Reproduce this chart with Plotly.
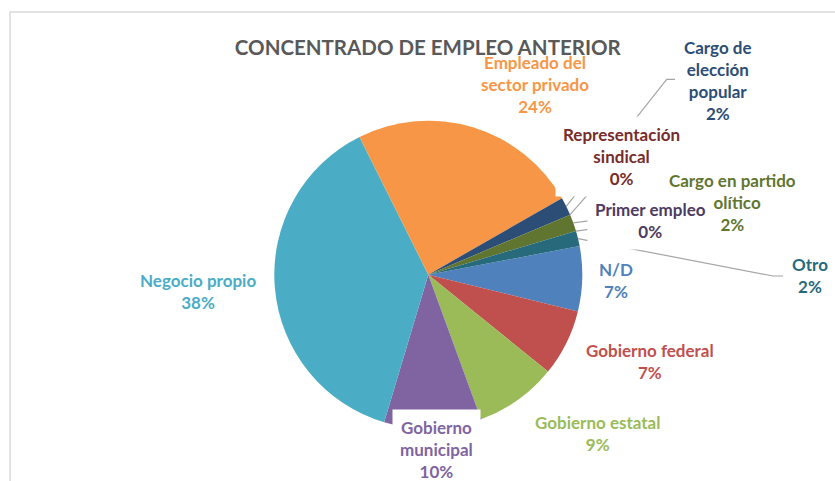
import math
import plotly.graph_objects as go

# ---------------- data ----------------
categories = ["N/D", "Gobierno federal", "Gobierno estatal", "Gobierno municipal",
              "Negocio propio", "Empleado del sector privado", "Cargo de elección popular",
              "Representación sindical", "Cargo en partido político", "Primer empleo", "Otro"]
values = [6.8, 7.0, 8.6, 10.2, 38.0, 24.1, 1.9, 0.0, 1.8, 0.0, 1.6]
label_lines = ["N/D", "Gobierno federal", "Gobierno estatal", "Gobierno<br>municipal",
               "Negocio propio", "Empleado del<br>sector privado", "Cargo de<br>elección<br>popular",
               "Representación<br>sindical", "Cargo en partido<br>político", "Primer empleo", "Otro"]
colors = ["#4F81BD", "#C0504D", "#9BBB59", "#8064A2", "#4BACC6", "#F79646",
          "#2C4D75", "#772C2A", "#5F7530", "#4D3B62", "#276A7C"]
title_text = "CONCENTRADO DE EMPLEO ANTERIOR"

# ---------------- layout constants (pixels) ----------------
W, H = 835, 481
CX, CY, R = 428.3, 274.7, 154.0
ROT = 79.3
FONT = "Lato"

label_pos = {
    "N/D": (616, 280),
    "Gobierno federal": (650, 361),
    "Gobierno estatal": (597, 433.5),
    "Gobierno municipal": (437, 449),
    "Negocio propio": (198, 291.5),
    "Empleado del sector privado": (535, 84),
    "Cargo de elección popular": (718, 81),
    "Representación sindical": (621.5, 156),
    "Cargo en partido político": (732, 202),
    "Primer empleo": (650.5, 221),
    "Otro": (809.5, 275.5),
}
boxed = ["Gobierno municipal", "Representación sindical", "Cargo en partido político", "Primer empleo"]
leader_via = {
    "Cargo de elección popular": [(666.7, 79.3), (675, 79.3)],
    "Representación sindical": None,
    "Cargo en partido político": None,
    "Primer empleo": None,
    "Otro": [(773, 276), (783, 276)],
}


def px(x):
    return x / W


def py(y):
    return 1 - y / H


total = sum(values)
mid_angle = {}
cum = 0.0
for c, v in zip(categories, values):
    mid_angle[c] = ROT + 360.0 * (cum + v / 2.0) / total
    cum += v


def edge_point(cat):
    a = math.radians(mid_angle[cat])
    return CX + R * math.sin(a), CY - R * math.cos(a)


fig = go.Figure()
fig.add_trace(go.Pie(
    labels=categories, values=values, sort=False, direction="clockwise", rotation=ROT,
    marker=dict(colors=colors, line=dict(width=0)),
    textinfo="none", hoverinfo="label+percent", showlegend=False,
    domain=dict(x=[px(CX - R), px(CX + R)], y=[py(CY + R), py(CY - R)]),
))

shapes = [dict(type="rect", xref="paper", yref="paper",
               x0=px(10), x1=px(W + 20), y0=py(H + 20), y1=py(12),
               line=dict(color="#D9D9D9", width=1.5), fillcolor="rgba(0,0,0,0)", layer="below")]
for cat, via in leader_via.items():
    x0, y0 = edge_point(cat)
    pts = [(x0, y0)] + (via if via else [label_pos[cat]])
    path = "M " + " L ".join(f"{px(x)},{py(y)}" for x, y in pts)
    shapes.append(dict(type="path", xref="paper", yref="paper", path=path,
                       line=dict(color="#A6A6A6", width=1.2), layer="above"))

annotations = []
order = [c for c in categories if c not in boxed] + ["Gobierno municipal", "Representación sindical",
                                                     "Cargo en partido político", "Primer empleo"]
for cat in order:
    i = categories.index(cat)
    pct = round(values[i] / total * 100)
    x, y = label_pos[cat]
    ann = dict(xref="paper", yref="paper", x=px(x), y=py(y), xanchor="center", yanchor="middle",
               text=f"{label_lines[i]}<br>{pct}%", showarrow=False, align="center",
               font=dict(family=FONT, size=17, color=colors[i], weight="bold"))
    if cat in boxed:
        ann.update(bgcolor="white", borderpad=7)
    annotations.append(ann)

fig.update_layout(
    width=W, height=H, margin=dict(l=0, r=0, t=0, b=0),
    paper_bgcolor="white", plot_bgcolor="white",
    title=dict(text=title_text, x=px(427.8), y=py(48.3), xanchor="center", yanchor="middle",
               font=dict(family=FONT, size=20.5, color="#595959", weight="bold")),
    shapes=shapes, annotations=annotations,
)

fig.write_html("out.html", config={"displayModeBar": False},
               post_script="document.body.style.margin='0';document.body.style.overflow='hidden';")
